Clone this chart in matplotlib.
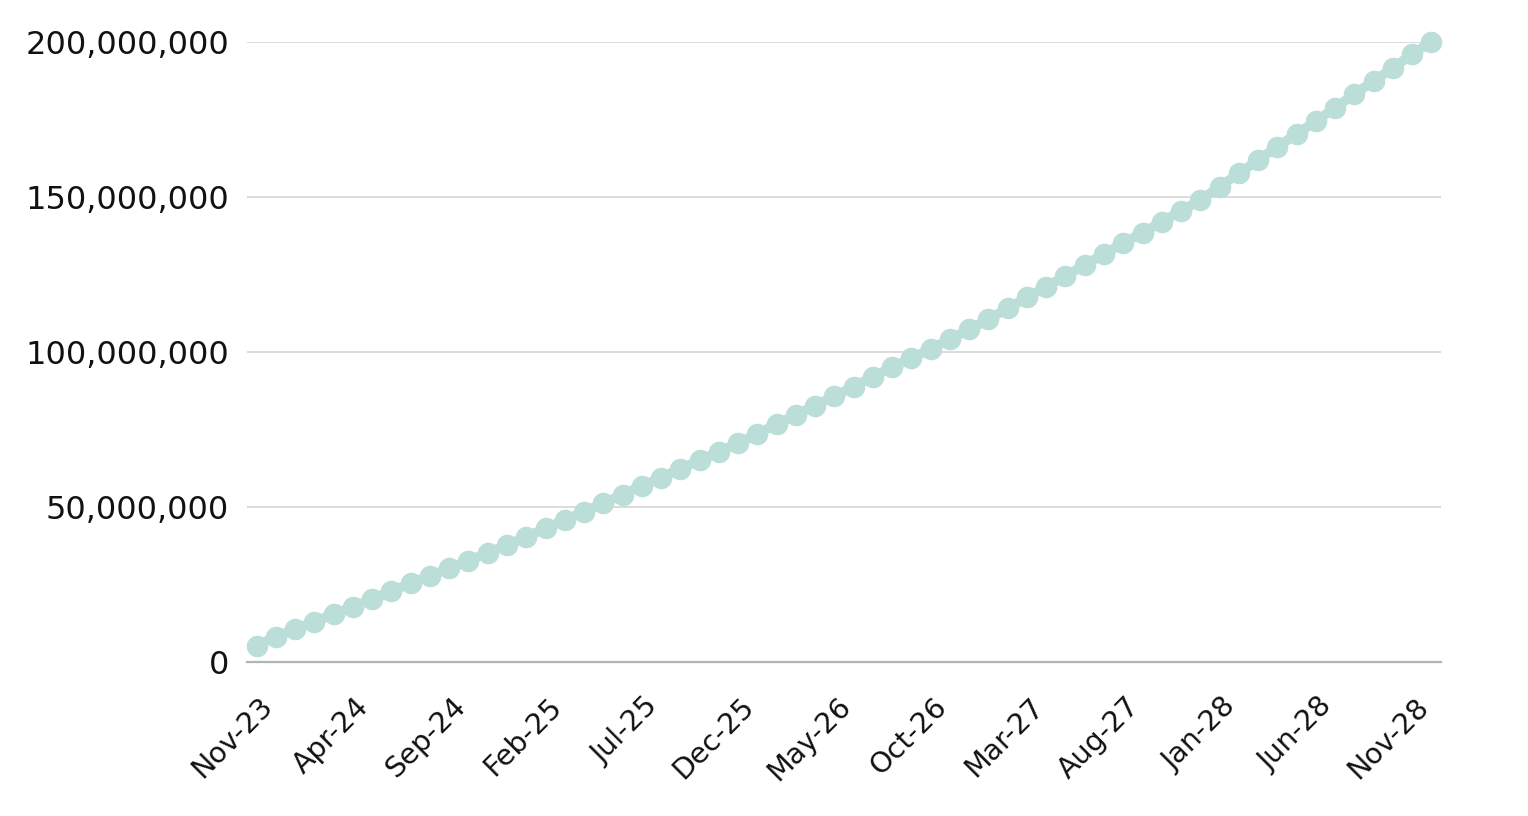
import matplotlib
matplotlib.use("Agg")
import matplotlib.pyplot as plt
import matplotlib.transforms as mtransforms
from matplotlib.ticker import FuncFormatter

months = ["Nov-23", "Dec-23", "Jan-24", "Feb-24", "Mar-24", "Apr-24", "May-24", "Jun-24",
          "Jul-24", "Aug-24", "Sep-24", "Oct-24", "Nov-24", "Dec-24", "Jan-25", "Feb-25",
          "Mar-25", "Apr-25", "May-25", "Jun-25", "Jul-25", "Aug-25", "Sep-25", "Oct-25",
          "Nov-25", "Dec-25", "Jan-26", "Feb-26", "Mar-26", "Apr-26", "May-26", "Jun-26",
          "Jul-26", "Aug-26", "Sep-26", "Oct-26", "Nov-26", "Dec-26", "Jan-27", "Feb-27",
          "Mar-27", "Apr-27", "May-27", "Jun-27", "Jul-27", "Aug-27", "Sep-27", "Oct-27",
          "Nov-27", "Dec-27", "Jan-28", "Feb-28", "Mar-28", "Apr-28", "May-28", "Jun-28",
          "Jul-28", "Aug-28", "Sep-28", "Oct-28", "Nov-28", "Dec-28"]

values_m = [5.2, 8.1, 10.5, 12.9, 15.4, 17.7, 20.2, 22.8, 25.3, 27.7,
            30.1, 32.6, 35.2, 37.6, 40.3, 43.0, 45.7, 48.4, 51.1, 53.9,
            56.7, 59.4, 62.2, 65.0, 67.7, 70.5, 73.5, 76.6, 79.6, 82.6,
            85.7, 88.7, 91.9, 95.0, 97.9, 100.9, 104.0, 107.2, 110.5, 114.0,
            117.5, 121.0, 124.4, 128.0, 131.5, 135.0, 138.4, 141.9, 145.4, 148.9,
            153.2, 157.5, 161.8, 166.1, 170.2, 174.4, 178.6, 183.1, 187.3, 191.5,
            196.0, 200.0]
values = [v * 1e6 for v in values_m]

yticks = [0, 50e6, 100e6, 150e6, 200e6]
label_step = 5

plt.rcParams['font.family'] = ['DejaVu Sans']

fig = plt.figure(figsize=(15.28, 8.16), dpi=100)
ax = fig.add_axes([247 / 1528, 1 - 661.7 / 816, (1441 - 247) / 1528, (661.7 - 41.7) / 816])

x = list(range(len(months)))
ax.plot(x, values, color='#BCDED8', linewidth=7, marker='o', markersize=14.5,
        solid_capstyle='round', clip_on=False, zorder=3)

ax.set_xlim(-0.5, len(months) - 0.5)
ax.set_ylim(0, 200e6)
ax.set_yticks(yticks)
ax.yaxis.set_major_formatter(FuncFormatter(lambda v, p: f"{int(round(v)):,}"))
ax.grid(axis='y', color='#d6d6d6', linewidth=1.2, zorder=0)
ax.set_axisbelow(True)

for s in ['top', 'right', 'left']:
    ax.spines[s].set_visible(False)
ax.spines['bottom'].set_color('#b3b3b3')
ax.spines['bottom'].set_linewidth(1.6)
ax.spines['bottom'].set_zorder(2)

ax.tick_params(axis='y', length=0, pad=13, labelsize=23, labelcolor='#111111')
ax.tick_params(axis='x', length=0, pad=22, labelsize=20.5, labelcolor='#111111')

tick_pos = x[::label_step]
ax.set_xticks(tick_pos)
ax.set_xticklabels([months[i] for i in tick_pos], rotation=45, ha='right',
                   rotation_mode='anchor')
offset = mtransforms.ScaledTranslation(2 / 100, 0, fig.dpi_scale_trans)
for lab in ax.get_xticklabels():
    lab.set_transform(lab.get_transform() + offset)

fig.savefig('out.png', dpi=100, facecolor='white')
